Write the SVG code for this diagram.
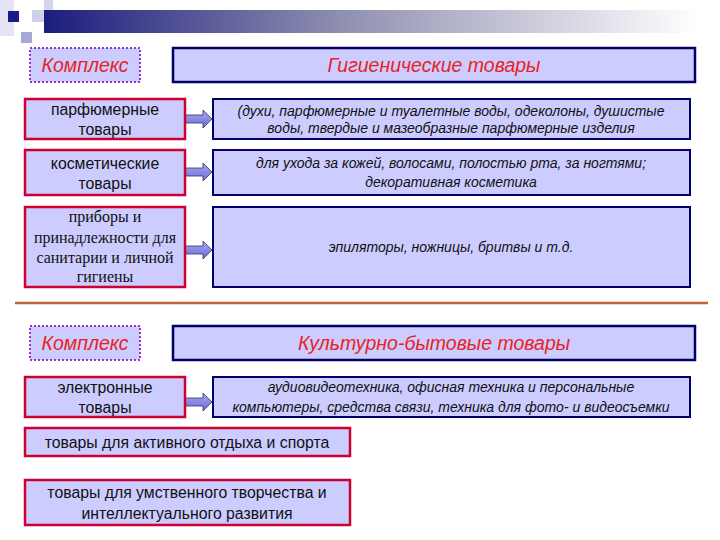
<svg xmlns="http://www.w3.org/2000/svg" width="720" height="540" viewBox="0 0 720 540">
<defs>
<linearGradient id="bar" x1="0" y1="0" x2="1" y2="0">
<stop offset="0" stop-color="#1c1c7e"/>
<stop offset="0.45" stop-color="#8e8eb0"/>
<stop offset="1" stop-color="#ffffff"/>
</linearGradient>
<linearGradient id="arr" x1="0" y1="0" x2="0" y2="1">
<stop offset="0" stop-color="#a9a9f0"/>
<stop offset="1" stop-color="#6c6cd8"/>
</linearGradient>
<symbol id="arrow" viewBox="0 0 28 20" overflow="visible">
<path d="M0,6 H18 V1 L27,10 L18,19 V14 H0 Z" fill="url(#arr)" stroke="#333366" stroke-width="0.8"/>
</symbol>
</defs>
<style>
.k{fill:#ccccff;stroke:#9933cc;stroke-width:2;stroke-dasharray:2 2}
.t{fill:#ccccff;stroke:#000066;stroke-width:2.5}
.l{fill:#ccccff;stroke:#cc0033;stroke-width:2.5}
.r{fill:#ccccff;stroke:#000066;stroke-width:2}
.red{font-family:"Liberation Sans",Arial,sans-serif;font-style:italic;font-size:19.5px;fill:#e8231e;text-anchor:middle}
.s{font-family:"Liberation Sans",Arial,sans-serif;font-size:15.8px;fill:#111;text-anchor:middle}
.sr{font-family:"Liberation Serif","Times New Roman",serif;font-size:16px;fill:#111;text-anchor:middle}
.i{font-family:"Liberation Sans",Arial,sans-serif;font-style:italic;font-size:14px;fill:#111;text-anchor:middle}
</style>
<rect width="720" height="540" fill="#ffffff"/>
<g id="decoration">
<rect x="0" y="0" width="14" height="36" fill="#e4e4f4"/>
<rect x="44" y="0" width="9" height="22" fill="#d4d4ec"/>
<rect x="32" y="10" width="21" height="12" fill="#d0d0ea"/>
<rect x="44" y="10" width="653" height="23" fill="url(#bar)"/>
<rect x="8" y="11" width="11" height="11" fill="#1a1a8a"/>
<rect x="21" y="32" width="11" height="11" fill="#a8a8d4"/>
<line x1="15" y1="303" x2="708" y2="303" stroke="#c0643a" stroke-width="2.5"/>
</g>
<g id="connectors">
<use href="#arrow" x="185" y="109" width="28" height="20"/>
<use href="#arrow" x="185" y="162" width="28" height="20"/>
<use href="#arrow" x="185" y="240" width="28" height="20"/>
<use href="#arrow" x="185" y="392" width="28" height="20"/>
</g>
<g id="kompleks1"><rect class="k" x="30" y="48" width="110" height="34"/><text class="red" x="85" y="72">Комплекс</text></g>
<g id="title1"><rect class="t" x="173" y="48" width="522" height="34"/><text class="red" x="434" y="72">Гигиенические товары</text></g>
<g id="parf"><rect class="l" x="25" y="99" width="160" height="40"/><text class="s" x="105" y="115">парфюмерные</text><text class="s" x="105" y="135">товары</text></g>
<g id="parf-desc"><rect class="r" x="213" y="99" width="477" height="40"/><text class="i" x="451" y="116">(духи, парфюмерные и туалетные воды, одеколоны, душистые</text><text class="i" x="451" y="133">воды, твердые и мазеобразные парфюмерные изделия</text></g>
<g id="kosm"><rect class="l" x="25" y="150" width="160" height="45"/><text class="s" x="105" y="169">косметические</text><text class="s" x="105" y="189">товары</text></g>
<g id="kosm-desc"><rect class="r" x="213" y="150" width="477" height="45"/><text class="i" x="451" y="168">для ухода за кожей, волосами, полостью рта, за ногтями;</text><text class="i" x="451" y="187">декоративная косметика</text></g>
<g id="pribory"><rect class="l" x="25" y="207" width="160" height="80"/><text class="sr" x="105" y="222">приборы и</text><text class="sr" x="105" y="243">принадлежности для</text><text class="sr" x="105" y="263">санитарии и личной</text><text class="sr" x="105" y="282">гигиены</text></g>
<g id="pribory-desc"><rect class="r" x="213" y="207" width="477" height="80"/><text class="i" x="451" y="252">эпиляторы, ножницы, бритвы и т.д.</text></g>
<g id="kompleks2"><rect class="k" x="30" y="326" width="110" height="34"/><text class="red" x="85" y="350">Комплекс</text></g>
<g id="title2"><rect class="t" x="173" y="326" width="522" height="34"/><text class="red" x="434" y="350">Культурно-бытовые товары</text></g>
<g id="elektr"><rect class="l" x="25" y="377" width="160" height="40"/><text class="s" x="105" y="393">электронные</text><text class="s" x="105" y="413">товары</text></g>
<g id="elektr-desc"><rect class="r" x="213" y="377" width="477" height="40"/><text class="i" x="451" y="392">аудиовидеотехника, офисная техника и персональные</text><text class="i" x="451" y="412">компьютеры, средства связи, техника для фото- и видеосъемки</text></g>
<g id="sport"><rect class="l" x="25" y="428" width="325" height="28"/><text class="s" x="187" y="448">товары для активного отдыха и спорта</text></g>
<g id="tvorch"><rect class="l" x="25" y="480" width="325" height="45"/><text class="s" x="187" y="498">товары для умственного творчества и</text><text class="s" x="187" y="519">интеллектуального развития</text></g>
</svg>
